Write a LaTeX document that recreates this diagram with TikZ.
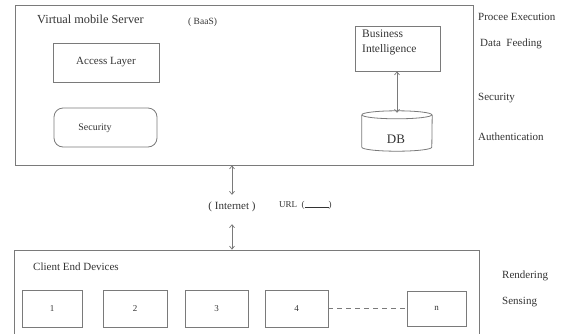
\documentclass[tikz,border=0pt]{standalone}
\usepackage{fontspec}
\setmainfont{Liberation Serif}
\usetikzlibrary{arrows.meta}
\definecolor{linegray}{HTML}{7A7A7A}
\definecolor{textgray}{HTML}{333333}
\begin{document}
\begin{tikzpicture}[x=1pt,y=-1pt,
  lbl/.style={inner sep=0pt,text=textgray,font=\fontsize{11}{13}\selectfont},
  box/.style={draw=linegray,line width=0.8pt,inner sep=0pt,text=textgray,font=\fontsize{11}{13}\selectfont},
  numbox/.style={box,minimum width=61pt,minimum height=37pt,font=\fontsize{9}{11}\selectfont},
  edge/.style={draw=linegray,line width=0.8pt},
  dbl/.style={draw=linegray,line width=0.7pt,{Straight Barb[length=3pt,width=5pt]}-{Straight Barb[length=3pt,width=5pt]}}
]
\useasboundingbox (0,0) rectangle (572,333);
% server
\node[box,minimum width=458pt,minimum height=160pt] (server) at (244,85) {};
\node[lbl,anchor=west,font=\fontsize{12.3}{14}\selectfont] (title) at (37,19) {Virtual mobile Server};
\node[lbl,anchor=west,font=\fontsize{9.5}{11}\selectfont] (baas) at (188,22) {( BaaS)};
\node[box,minimum width=106pt,minimum height=39pt] (access) at (106,62.5) {Access Layer};
\node[box,rounded corners=9pt,minimum width=103pt,minimum height=39pt] (sec) at (105.5,127.5) {};
\node[lbl,font=\fontsize{10}{12}\selectfont] (sectext) at (95,128) {Security};
\node[box,minimum width=85pt,minimum height=45pt] (bi) at (397.5,48.5) {};
\node[lbl,anchor=north west,align=left,font=\fontsize{11.5}{15}\selectfont] (bitext) at (362,30) {Business\\Intelligence};
% DB cylinder
\node[inner sep=0pt,minimum width=70pt,minimum height=40pt] (db) at (397,131) {};
\draw[edge] ([yshift=-4pt]db.north west) arc[start angle=180,end angle=-180,x radius=35pt,y radius=4pt];
\draw[edge] ([yshift=-4pt]db.north west) -- ([yshift=4pt]db.south west)
  arc[start angle=180,end angle=360,x radius=35pt,y radius=4pt] -- ([yshift=-4pt]db.north east);
\node[lbl,font=\fontsize{13}{15}\selectfont] (dbtext) at (396,139) {DB};
\draw[dbl] (bi.south -| db.north) -- ([yshift=-2pt]db.north);
% right labels
\node[lbl,anchor=west] (pe) at (478,17) {Procee Execution};
\node[lbl,anchor=west] (df) at (480,44) {Data\ \ Feeding};
\node[lbl,anchor=west] (rsec) at (478,98) {Security};
\node[lbl,anchor=west] (auth) at (478,137) {Authentication};
% internet
\node[lbl] (internet) at (232,207) {( Internet )};
\node[lbl,anchor=west,font=\fontsize{9}{11}\selectfont] (url) at (279,205.5) {URL\ \ (\rule[0.1ex]{24pt}{0.4pt})};
% client
\node[box,minimum width=465pt,minimum height=86pt] (client) at (246.5,293) {};
\draw[dbl] (server.south -| internet) -- ([yshift=7pt]internet.north);
\draw[dbl] ([yshift=-12pt]internet.south) -- (client.north -| internet);
\node[lbl,anchor=west] (ced) at (33,267) {Client End Devices};
\node[numbox,minimum width=60pt] (d1) at (52,308.5) {1};
\node[numbox,minimum width=64pt] (d2) at (135,308.5) {2};
\node[numbox,minimum width=63pt] (d3) at (216.5,308.5) {3};
\node[numbox,minimum width=63pt] (d4) at (296.5,308.5) {4};
\node[numbox,minimum width=59pt,minimum height=35pt] (dn) at (436.5,308.5) {n};
\draw[draw=linegray,line width=0.7pt,dashed,dash pattern=on 5pt off 4pt] (d4.east) -- (dn.west);
\node[lbl,anchor=west] (rend) at (502,276) {Rendering};
\node[lbl,anchor=west] (sens) at (502,302) {Sensing};
\end{tikzpicture}
\end{document}
